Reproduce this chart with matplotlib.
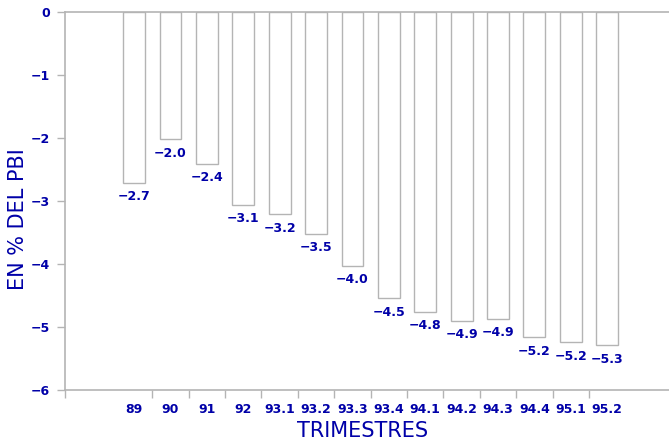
import matplotlib
matplotlib.use("Agg")
import matplotlib.pyplot as plt
import numpy as np

categories = ["89", "90", "91", "92", "93.1", "93.2", "93.3", "93.4",
              "94.1", "94.2", "94.3", "94.4", "95.1", "95.2"]
values = [-2.71, -2.02, -2.41, -3.06, -3.21, -3.52, -4.03, -4.54,
          -4.76, -4.90, -4.87, -5.16, -5.24, -5.29]
labels = ["-2.7", "-2.0", "-2.4", "-3.1", "-3.2", "-3.5", "-4.0", "-4.5",
          "-4.8", "-4.9", "-4.9", "-5.2", "-5.2", "-5.3"]
yticks = [0, -1, -2, -3, -4, -5, -6]

blue = "#0000A8"
gray = "#b4b4b4"

fig = plt.figure(figsize=(6.69, 4.48), dpi=100)
ax = fig.add_axes([65/669, 1-390/448, (669-65)/669, (390-12)/448])

x = np.arange(len(categories))
ax.bar(x, values, width=0.6, color="white", edgecolor=gray, linewidth=1.0)

for xi, v, lab in zip(x, values, labels):
    ax.text(xi, v - 0.12, lab.replace("-", "\u2212"), ha="center", va="top",
            color=blue, fontsize=9, fontweight="bold")

ax.set_xlim(-1.9, 14.7)
ax.set_ylim(-6, 0)

ax.set_yticks(yticks)
ax.set_yticklabels([("\u2212" + str(-t)) if t < 0 else str(t) for t in yticks])

ax.set_xticks(list(np.arange(len(categories) - 1) + 0.5) + [-1.9])
ax.set_xticklabels([])
ax.set_xticks(x, minor=True)
ax.set_xticklabels(categories, minor=True)
ax.tick_params(axis="x", which="minor", length=0, pad=9, colors=blue, labelsize=9)
ax.tick_params(axis="x", which="major", length=6, color=gray, width=1)
ax.tick_params(axis="y", length=6, color=gray, width=1, labelcolor=blue, labelsize=9, pad=5)
for lab in ax.get_xticklabels(minor=True) + ax.get_yticklabels():
    lab.set_fontweight("bold")

for s in ["left", "bottom", "top"]:
    ax.spines[s].set_color(gray)
    ax.spines[s].set_linewidth(1.2)
ax.spines["right"].set_visible(False)

ax.set_xlabel("TRIMESTRES", color=blue, fontsize=15, labelpad=4)
ax.xaxis.set_label_coords((363-65)/604, -(431-390)/378 - 0.0)
ax.set_ylabel("EN % DEL PBI", color=blue, fontsize=15)
ax.yaxis.set_label_coords(-(65-18)/604, (390-219)/378)
ax.xaxis.label.set_va("center")
ax.yaxis.label.set_va("center")

fig.savefig("out.png", dpi=100)
